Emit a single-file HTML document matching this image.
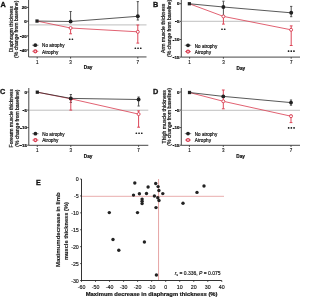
<!DOCTYPE html><html><head><meta charset="utf-8"><style>html,body{margin:0;padding:0;background:#fff;}svg{display:block;will-change:transform;font-family:"Liberation Sans",sans-serif;}</style></head><body>
<svg width="300" height="299" viewBox="0 0 300 299">
<rect width="300" height="299" fill="#fff"/>
<line x1="28.6" y1="0" x2="28.6" y2="56.95" stroke="#3c3c3c" stroke-width="0.95"/>
<line x1="28.6" y1="56.95" x2="146.5" y2="56.95" stroke="#3c3c3c" stroke-width="0.95"/>
<line x1="27.0" y1="7.4" x2="28.6" y2="7.4" stroke="#333" stroke-width="0.9"/>
<text x="26.7" y="9.0" font-size="4.4" text-anchor="end" font-weight="bold" fill="#111" stroke="#111" stroke-width="0.24">20</text>
<line x1="27.0" y1="21.2" x2="28.6" y2="21.2" stroke="#333" stroke-width="0.9"/>
<text x="26.7" y="22.8" font-size="4.4" text-anchor="end" font-weight="bold" fill="#111" stroke="#111" stroke-width="0.24">0</text>
<line x1="27.0" y1="35.9" x2="28.6" y2="35.9" stroke="#333" stroke-width="0.9"/>
<text x="26.7" y="37.5" font-size="4.4" text-anchor="end" font-weight="bold" fill="#111" stroke="#111" stroke-width="0.24">20</text>
<rect x="19.86" y="36.00" width="1.8" height="1.0" fill="#111"/>
<line x1="27.0" y1="49.9" x2="28.6" y2="49.9" stroke="#333" stroke-width="0.9"/>
<text x="26.7" y="51.5" font-size="4.4" text-anchor="end" font-weight="bold" fill="#111" stroke="#111" stroke-width="0.24">40</text>
<rect x="19.86" y="50.00" width="1.8" height="1.0" fill="#111"/>
<line x1="37.2" y1="56.95" x2="37.2" y2="58.550000000000004" stroke="#333" stroke-width="0.9"/>
<text x="37.2" y="63.85" font-size="4.5" text-anchor="middle" font-weight="normal" fill="#111" stroke="#111" stroke-width="0.13">1</text>
<line x1="70.6" y1="56.95" x2="70.6" y2="58.550000000000004" stroke="#333" stroke-width="0.9"/>
<text x="70.6" y="63.85" font-size="4.5" text-anchor="middle" font-weight="normal" fill="#111" stroke="#111" stroke-width="0.13">3</text>
<line x1="137.8" y1="56.95" x2="137.8" y2="58.550000000000004" stroke="#333" stroke-width="0.9"/>
<text x="137.8" y="63.85" font-size="4.5" text-anchor="middle" font-weight="normal" fill="#111" stroke="#111" stroke-width="0.13">7</text>
<text x="83.8" y="69.45" font-size="4.7" text-anchor="start" font-weight="bold" fill="#111" stroke="#111" stroke-width="0.2">Day</text>
<line x1="28.6" y1="24.9" x2="146.5" y2="24.9" stroke="#a4a4a4" stroke-width="0.7"/>
<text x="0.5" y="7.2" font-size="7.3" text-anchor="start" font-weight="bold" fill="#111" stroke="#111" stroke-width="0.3">A</text>
<text x="12.8" y="29.2" font-size="5.0" text-anchor="middle" font-weight="normal" fill="#111" stroke="#111" stroke-width="0.2" transform="rotate(-90 12.8 29.2)" textLength="46.2" lengthAdjust="spacingAndGlyphs">Diaphragm thickness</text>
<text x="18.4" y="29.3" font-size="5.0" text-anchor="middle" font-weight="normal" fill="#111" stroke="#111" stroke-width="0.2" transform="rotate(-90 18.4 29.3)" textLength="57.2" lengthAdjust="spacingAndGlyphs">(% change from baseline)</text>
<line x1="70.6" y1="11.5" x2="70.6" y2="21.5" stroke="#505050" stroke-width="1.0"/>
<line x1="69.5" y1="11.5" x2="71.69999999999999" y2="11.5" stroke="#505050" stroke-width="1.0"/>
<line x1="69.5" y1="21.5" x2="71.69999999999999" y2="21.5" stroke="#505050" stroke-width="1.0"/>
<line x1="137.8" y1="1.6" x2="137.8" y2="20" stroke="#505050" stroke-width="1.0"/>
<line x1="136.70000000000002" y1="1.6" x2="138.9" y2="1.6" stroke="#505050" stroke-width="1.0"/>
<line x1="136.70000000000002" y1="20" x2="138.9" y2="20" stroke="#505050" stroke-width="1.0"/>
<line x1="70.6" y1="28.0" x2="70.6" y2="33.8" stroke="#dc4658" stroke-width="1.0"/>
<line x1="69.19999999999999" y1="28.0" x2="72.0" y2="28.0" stroke="#dc4658" stroke-width="1.0"/>
<line x1="69.19999999999999" y1="33.8" x2="72.0" y2="33.8" stroke="#dc4658" stroke-width="1.0"/>
<line x1="137.8" y1="25" x2="137.8" y2="43.1" stroke="#dc4658" stroke-width="1.0"/>
<line x1="136.4" y1="25" x2="139.20000000000002" y2="25" stroke="#dc4658" stroke-width="1.0"/>
<line x1="136.4" y1="43.1" x2="139.20000000000002" y2="43.1" stroke="#dc4658" stroke-width="1.0"/>
<polyline points="37.0,21.05 70.6,28.0 137.8,31.8" fill="none" stroke="#dc4658" stroke-width="0.85"/>
<polyline points="37.0,21.05 70.6,21.5 137.8,16.3" fill="none" stroke="#222" stroke-width="0.75"/>
<circle cx="70.6" cy="28.0" r="1.5" fill="#fff" stroke="#d83a4e" stroke-width="0.9"/>
<circle cx="137.8" cy="31.8" r="1.5" fill="#fff" stroke="#d83a4e" stroke-width="0.9"/>
<circle cx="70.6" cy="21.5" r="1.95" fill="#222" stroke="none" stroke-width="0"/>
<circle cx="137.8" cy="16.3" r="1.95" fill="#222" stroke="none" stroke-width="0"/>
<rect x="35.40" y="19.40" width="3.2" height="3.3" fill="#222"/>
<rect x="68.90" y="38.40" width="1.6" height="1.7" rx="0.5" fill="#222"/>
<rect x="71.60" y="38.40" width="1.6" height="1.7" rx="0.5" fill="#222"/>
<rect x="134.55" y="47.40" width="1.6" height="1.7" rx="0.5" fill="#222"/>
<rect x="137.25" y="47.40" width="1.6" height="1.7" rx="0.5" fill="#222"/>
<rect x="139.95" y="47.40" width="1.6" height="1.7" rx="0.5" fill="#222"/>
<line x1="32.099999999999994" y1="45.2" x2="38.5" y2="45.2" stroke="#555" stroke-width="0.7"/>
<circle cx="35.3" cy="45.2" r="1.9" fill="#222" stroke="none" stroke-width="0"/>
<line x1="32.3" y1="51.3" x2="38.3" y2="51.3" stroke="#dc4658" stroke-width="0.8"/>
<circle cx="35.3" cy="51.3" r="1.5" fill="#f6d0d6" stroke="#d83a4e" stroke-width="1.2"/>
<text x="42.1" y="47.3" font-size="4.8" text-anchor="start" font-weight="normal" fill="#111" stroke="#111" stroke-width="0.18" textLength="22.4" lengthAdjust="spacingAndGlyphs">No atrophy</text>
<text x="42.1" y="53.6" font-size="4.8" text-anchor="start" font-weight="normal" fill="#111" stroke="#111" stroke-width="0.18" textLength="16.2" lengthAdjust="spacingAndGlyphs">Atrophy</text>
<line x1="181.3" y1="0" x2="181.3" y2="57.1" stroke="#3c3c3c" stroke-width="0.95"/>
<line x1="181.3" y1="57.1" x2="300" y2="57.1" stroke="#3c3c3c" stroke-width="0.95"/>
<line x1="179.70000000000002" y1="3.7" x2="181.3" y2="3.7" stroke="#333" stroke-width="0.9"/>
<text x="179.4" y="5.3" font-size="4.4" text-anchor="end" font-weight="bold" fill="#111" stroke="#111" stroke-width="0.24">0</text>
<line x1="179.70000000000002" y1="21.4" x2="181.3" y2="21.4" stroke="#333" stroke-width="0.9"/>
<text x="179.4" y="23.0" font-size="4.4" text-anchor="end" font-weight="bold" fill="#111" stroke="#111" stroke-width="0.24">5</text>
<rect x="175.00" y="21.00" width="1.8" height="1.0" fill="#111"/>
<line x1="179.70000000000002" y1="39.5" x2="181.3" y2="39.5" stroke="#333" stroke-width="0.9"/>
<text x="179.4" y="41.1" font-size="4.4" text-anchor="end" font-weight="bold" fill="#111" stroke="#111" stroke-width="0.24">10</text>
<rect x="172.56" y="40.00" width="1.8" height="1.0" fill="#111"/>
<line x1="179.70000000000002" y1="57.1" x2="181.3" y2="57.1" stroke="#333" stroke-width="0.9"/>
<text x="179.4" y="58.7" font-size="4.4" text-anchor="end" font-weight="bold" fill="#111" stroke="#111" stroke-width="0.24">15</text>
<rect x="172.56" y="57.00" width="1.8" height="1.0" fill="#111"/>
<line x1="189.6" y1="57.1" x2="189.6" y2="58.7" stroke="#333" stroke-width="0.9"/>
<text x="189.6" y="64.0" font-size="4.5" text-anchor="middle" font-weight="normal" fill="#111" stroke="#111" stroke-width="0.13">1</text>
<line x1="223.4" y1="57.1" x2="223.4" y2="58.7" stroke="#333" stroke-width="0.9"/>
<text x="223.4" y="64.0" font-size="4.5" text-anchor="middle" font-weight="normal" fill="#111" stroke="#111" stroke-width="0.13">3</text>
<line x1="291.2" y1="57.1" x2="291.2" y2="58.7" stroke="#333" stroke-width="0.9"/>
<text x="291.2" y="64.0" font-size="4.5" text-anchor="middle" font-weight="normal" fill="#111" stroke="#111" stroke-width="0.13">7</text>
<text x="236.5" y="69.6" font-size="4.7" text-anchor="start" font-weight="bold" fill="#111" stroke="#111" stroke-width="0.2">Day</text>
<line x1="181.3" y1="21.3" x2="300" y2="21.3" stroke="#a4a4a4" stroke-width="0.7"/>
<text x="153" y="7.0" font-size="7.3" text-anchor="start" font-weight="bold" fill="#111" stroke="#111" stroke-width="0.3">B</text>
<text x="165.3" y="28.3" font-size="5.0" text-anchor="middle" font-weight="normal" fill="#111" stroke="#111" stroke-width="0.2" transform="rotate(-90 165.3 28.3)" textLength="49.2" lengthAdjust="spacingAndGlyphs">Arm muscle thickness</text>
<text x="171.0" y="28.3" font-size="5.0" text-anchor="middle" font-weight="normal" fill="#111" stroke="#111" stroke-width="0.2" transform="rotate(-90 171.0 28.3)" textLength="57.2" lengthAdjust="spacingAndGlyphs">(% change from baseline)</text>
<line x1="223.4" y1="1.2" x2="223.4" y2="16" stroke="#505050" stroke-width="1.0"/>
<line x1="222.3" y1="1.2" x2="224.5" y2="1.2" stroke="#505050" stroke-width="1.0"/>
<line x1="222.3" y1="16" x2="224.5" y2="16" stroke="#505050" stroke-width="1.0"/>
<line x1="291.2" y1="6.4" x2="291.2" y2="16.7" stroke="#505050" stroke-width="1.0"/>
<line x1="290.09999999999997" y1="6.4" x2="292.3" y2="6.4" stroke="#505050" stroke-width="1.0"/>
<line x1="290.09999999999997" y1="16.7" x2="292.3" y2="16.7" stroke="#505050" stroke-width="1.0"/>
<line x1="223.4" y1="16.4" x2="223.4" y2="24.1" stroke="#dc4658" stroke-width="1.0"/>
<line x1="222.0" y1="16.4" x2="224.8" y2="16.4" stroke="#dc4658" stroke-width="1.0"/>
<line x1="222.0" y1="24.1" x2="224.8" y2="24.1" stroke="#dc4658" stroke-width="1.0"/>
<line x1="291.2" y1="25.9" x2="291.2" y2="45.5" stroke="#dc4658" stroke-width="1.0"/>
<line x1="289.8" y1="25.9" x2="292.59999999999997" y2="25.9" stroke="#dc4658" stroke-width="1.0"/>
<line x1="289.8" y1="45.5" x2="292.59999999999997" y2="45.5" stroke="#dc4658" stroke-width="1.0"/>
<polyline points="189.35,3.75 223.4,16.4 291.1,29.8" fill="none" stroke="#dc4658" stroke-width="0.85"/>
<polyline points="189.35,3.75 223.4,7 291.2,12.8" fill="none" stroke="#222" stroke-width="0.75"/>
<circle cx="223.4" cy="16.4" r="1.5" fill="#fff" stroke="#d83a4e" stroke-width="0.9"/>
<circle cx="291.1" cy="29.8" r="1.5" fill="#fff" stroke="#d83a4e" stroke-width="0.9"/>
<circle cx="223.4" cy="7" r="1.95" fill="#222" stroke="none" stroke-width="0"/>
<circle cx="291.2" cy="12.8" r="1.95" fill="#222" stroke="none" stroke-width="0"/>
<rect x="187.75" y="2.10" width="3.2" height="3.3" fill="#222"/>
<rect x="221.20" y="28.40" width="1.6" height="1.7" rx="0.5" fill="#222"/>
<rect x="223.90" y="28.40" width="1.6" height="1.7" rx="0.5" fill="#222"/>
<rect x="287.75" y="50.20" width="1.6" height="1.7" rx="0.5" fill="#222"/>
<rect x="290.45" y="50.20" width="1.6" height="1.7" rx="0.5" fill="#222"/>
<rect x="293.15" y="50.20" width="1.6" height="1.7" rx="0.5" fill="#222"/>
<line x1="184.8" y1="45.3" x2="191.2" y2="45.3" stroke="#555" stroke-width="0.7"/>
<circle cx="188" cy="45.3" r="1.9" fill="#222" stroke="none" stroke-width="0"/>
<line x1="185.0" y1="51.6" x2="191.0" y2="51.6" stroke="#dc4658" stroke-width="0.8"/>
<circle cx="188" cy="51.6" r="1.5" fill="#f6d0d6" stroke="#d83a4e" stroke-width="1.2"/>
<text x="194.8" y="47.8" font-size="4.8" text-anchor="start" font-weight="normal" fill="#111" stroke="#111" stroke-width="0.18" textLength="22.4" lengthAdjust="spacingAndGlyphs">No atrophy</text>
<text x="194.8" y="53.8" font-size="4.8" text-anchor="start" font-weight="normal" fill="#111" stroke="#111" stroke-width="0.18" textLength="16.2" lengthAdjust="spacingAndGlyphs">Atrophy</text>
<line x1="28.8" y1="88" x2="28.8" y2="145.3" stroke="#3c3c3c" stroke-width="0.95"/>
<line x1="28.8" y1="145.3" x2="148.3" y2="145.3" stroke="#3c3c3c" stroke-width="0.95"/>
<line x1="27.2" y1="92" x2="28.8" y2="92" stroke="#333" stroke-width="0.9"/>
<text x="26.9" y="93.6" font-size="4.4" text-anchor="end" font-weight="bold" fill="#111" stroke="#111" stroke-width="0.24">0</text>
<line x1="27.2" y1="110.1" x2="28.8" y2="110.1" stroke="#333" stroke-width="0.9"/>
<text x="26.9" y="111.7" font-size="4.4" text-anchor="end" font-weight="bold" fill="#111" stroke="#111" stroke-width="0.24">5</text>
<rect x="22.50" y="110.00" width="1.8" height="1.0" fill="#111"/>
<line x1="27.2" y1="127.6" x2="28.8" y2="127.6" stroke="#333" stroke-width="0.9"/>
<text x="26.9" y="129.2" font-size="4.4" text-anchor="end" font-weight="bold" fill="#111" stroke="#111" stroke-width="0.24">10</text>
<rect x="20.06" y="128.00" width="1.8" height="1.0" fill="#111"/>
<line x1="27.2" y1="145.2" x2="28.8" y2="145.2" stroke="#333" stroke-width="0.9"/>
<text x="26.9" y="146.8" font-size="4.4" text-anchor="end" font-weight="bold" fill="#111" stroke="#111" stroke-width="0.24">15</text>
<rect x="20.06" y="145.00" width="1.8" height="1.0" fill="#111"/>
<line x1="37.3" y1="145.3" x2="37.3" y2="146.9" stroke="#333" stroke-width="0.9"/>
<text x="37.3" y="152.2" font-size="4.5" text-anchor="middle" font-weight="normal" fill="#111" stroke="#111" stroke-width="0.13">1</text>
<line x1="70.8" y1="145.3" x2="70.8" y2="146.9" stroke="#333" stroke-width="0.9"/>
<text x="70.8" y="152.2" font-size="4.5" text-anchor="middle" font-weight="normal" fill="#111" stroke="#111" stroke-width="0.13">3</text>
<line x1="138.6" y1="145.3" x2="138.6" y2="146.9" stroke="#333" stroke-width="0.9"/>
<text x="138.6" y="152.2" font-size="4.5" text-anchor="middle" font-weight="normal" fill="#111" stroke="#111" stroke-width="0.13">7</text>
<text x="83.8" y="158.3" font-size="4.7" text-anchor="start" font-weight="bold" fill="#111" stroke="#111" stroke-width="0.2">Day</text>
<line x1="28.8" y1="110.2" x2="148.3" y2="110.2" stroke="#a4a4a4" stroke-width="0.7"/>
<text x="0" y="94.2" font-size="7.3" text-anchor="start" font-weight="bold" fill="#111" stroke="#111" stroke-width="0.3">C</text>
<text x="13.0" y="118.25" font-size="5.0" text-anchor="middle" font-weight="normal" fill="#111" stroke="#111" stroke-width="0.2" transform="rotate(-90 13.0 118.25)" textLength="58.300000000000004" lengthAdjust="spacingAndGlyphs">Forearm muscle thickness</text>
<text x="18.7" y="118.2" font-size="5.0" text-anchor="middle" font-weight="normal" fill="#111" stroke="#111" stroke-width="0.2" transform="rotate(-90 18.7 118.2)" textLength="57.2" lengthAdjust="spacingAndGlyphs">(% change from baseline)</text>
<line x1="70.8" y1="94.5" x2="70.8" y2="102.5" stroke="#505050" stroke-width="1.0"/>
<line x1="69.7" y1="94.5" x2="71.89999999999999" y2="94.5" stroke="#505050" stroke-width="1.0"/>
<line x1="69.7" y1="102.5" x2="71.89999999999999" y2="102.5" stroke="#505050" stroke-width="1.0"/>
<line x1="138.6" y1="97" x2="138.6" y2="106" stroke="#505050" stroke-width="1.0"/>
<line x1="137.5" y1="97" x2="139.7" y2="97" stroke="#505050" stroke-width="1.0"/>
<line x1="137.5" y1="106" x2="139.7" y2="106" stroke="#505050" stroke-width="1.0"/>
<line x1="70.8" y1="98.8" x2="70.8" y2="110.1" stroke="#dc4658" stroke-width="1.0"/>
<line x1="69.39999999999999" y1="98.8" x2="72.2" y2="98.8" stroke="#dc4658" stroke-width="1.0"/>
<line x1="69.39999999999999" y1="110.1" x2="72.2" y2="110.1" stroke="#dc4658" stroke-width="1.0"/>
<line x1="138.6" y1="110.9" x2="138.6" y2="127.2" stroke="#dc4658" stroke-width="1.0"/>
<line x1="137.2" y1="110.9" x2="140.0" y2="110.9" stroke="#dc4658" stroke-width="1.0"/>
<line x1="137.2" y1="127.2" x2="140.0" y2="127.2" stroke="#dc4658" stroke-width="1.0"/>
<polyline points="37.3,92.2 70.8,98.8 138.6,114.1" fill="none" stroke="#dc4658" stroke-width="0.85"/>
<polyline points="37.3,92.2 70.8,98.4 138.6,99.5" fill="none" stroke="#222" stroke-width="0.75"/>
<circle cx="70.8" cy="98.8" r="1.5" fill="#fff" stroke="#d83a4e" stroke-width="0.9"/>
<circle cx="138.6" cy="114.1" r="1.5" fill="#fff" stroke="#d83a4e" stroke-width="0.9"/>
<circle cx="70.8" cy="98.4" r="1.95" fill="#222" stroke="none" stroke-width="0"/>
<circle cx="138.6" cy="99.5" r="1.95" fill="#222" stroke="none" stroke-width="0"/>
<rect x="35.70" y="90.55" width="3.2" height="3.3" fill="#222"/>
<rect x="135.55" y="132.40" width="1.6" height="1.7" rx="0.5" fill="#222"/>
<rect x="138.25" y="132.40" width="1.6" height="1.7" rx="0.5" fill="#222"/>
<rect x="140.95" y="132.40" width="1.6" height="1.7" rx="0.5" fill="#222"/>
<line x1="32.199999999999996" y1="133.7" x2="38.6" y2="133.7" stroke="#555" stroke-width="0.7"/>
<circle cx="35.4" cy="133.7" r="1.9" fill="#222" stroke="none" stroke-width="0"/>
<line x1="32.4" y1="140.1" x2="38.4" y2="140.1" stroke="#dc4658" stroke-width="0.8"/>
<circle cx="35.4" cy="140.1" r="1.5" fill="#f6d0d6" stroke="#d83a4e" stroke-width="1.2"/>
<text x="42.2" y="136.1" font-size="4.8" text-anchor="start" font-weight="normal" fill="#111" stroke="#111" stroke-width="0.18" textLength="22.4" lengthAdjust="spacingAndGlyphs">No atrophy</text>
<text x="42.2" y="142.4" font-size="4.8" text-anchor="start" font-weight="normal" fill="#111" stroke="#111" stroke-width="0.18" textLength="16.2" lengthAdjust="spacingAndGlyphs">Atrophy</text>
<line x1="181.3" y1="88" x2="181.3" y2="145.3" stroke="#3c3c3c" stroke-width="0.95"/>
<line x1="181.3" y1="145.3" x2="300" y2="145.3" stroke="#3c3c3c" stroke-width="0.95"/>
<line x1="179.70000000000002" y1="92" x2="181.3" y2="92" stroke="#333" stroke-width="0.9"/>
<text x="179.4" y="93.6" font-size="4.4" text-anchor="end" font-weight="bold" fill="#111" stroke="#111" stroke-width="0.24">0</text>
<line x1="179.70000000000002" y1="110.1" x2="181.3" y2="110.1" stroke="#333" stroke-width="0.9"/>
<text x="179.4" y="111.7" font-size="4.4" text-anchor="end" font-weight="bold" fill="#111" stroke="#111" stroke-width="0.24">5</text>
<rect x="175.00" y="110.00" width="1.8" height="1.0" fill="#111"/>
<line x1="179.70000000000002" y1="127.6" x2="181.3" y2="127.6" stroke="#333" stroke-width="0.9"/>
<text x="179.4" y="129.2" font-size="4.4" text-anchor="end" font-weight="bold" fill="#111" stroke="#111" stroke-width="0.24">10</text>
<rect x="172.56" y="128.00" width="1.8" height="1.0" fill="#111"/>
<line x1="179.70000000000002" y1="145.2" x2="181.3" y2="145.2" stroke="#333" stroke-width="0.9"/>
<text x="179.4" y="146.8" font-size="4.4" text-anchor="end" font-weight="bold" fill="#111" stroke="#111" stroke-width="0.24">15</text>
<rect x="172.56" y="145.00" width="1.8" height="1.0" fill="#111"/>
<line x1="189.4" y1="145.3" x2="189.4" y2="146.9" stroke="#333" stroke-width="0.9"/>
<text x="189.4" y="152.2" font-size="4.5" text-anchor="middle" font-weight="normal" fill="#111" stroke="#111" stroke-width="0.13">1</text>
<line x1="223.3" y1="145.3" x2="223.3" y2="146.9" stroke="#333" stroke-width="0.9"/>
<text x="223.3" y="152.2" font-size="4.5" text-anchor="middle" font-weight="normal" fill="#111" stroke="#111" stroke-width="0.13">3</text>
<line x1="291" y1="145.3" x2="291" y2="146.9" stroke="#333" stroke-width="0.9"/>
<text x="291" y="152.2" font-size="4.5" text-anchor="middle" font-weight="normal" fill="#111" stroke="#111" stroke-width="0.13">7</text>
<text x="236.3" y="158.3" font-size="4.7" text-anchor="start" font-weight="bold" fill="#111" stroke="#111" stroke-width="0.2">Day</text>
<line x1="181.3" y1="110.3" x2="300" y2="110.3" stroke="#a4a4a4" stroke-width="0.7"/>
<text x="153" y="94.2" font-size="7.3" text-anchor="start" font-weight="bold" fill="#111" stroke="#111" stroke-width="0.3">D</text>
<text x="165.6" y="116.75" font-size="5.0" text-anchor="middle" font-weight="normal" fill="#111" stroke="#111" stroke-width="0.2" transform="rotate(-90 165.6 116.75)" textLength="53.300000000000004" lengthAdjust="spacingAndGlyphs">Thigh muscle thickness</text>
<text x="171.0" y="116.9" font-size="5.0" text-anchor="middle" font-weight="normal" fill="#111" stroke="#111" stroke-width="0.2" transform="rotate(-90 171.0 116.9)" textLength="57.800000000000004" lengthAdjust="spacingAndGlyphs">(% change from baseline)</text>
<line x1="291" y1="100" x2="291" y2="105.2" stroke="#505050" stroke-width="1.0"/>
<line x1="289.9" y1="100" x2="292.1" y2="100" stroke="#505050" stroke-width="1.0"/>
<line x1="289.9" y1="105.2" x2="292.1" y2="105.2" stroke="#505050" stroke-width="1.0"/>
<line x1="223.3" y1="90" x2="223.3" y2="108.8" stroke="#dc4658" stroke-width="1.0"/>
<line x1="221.9" y1="90" x2="224.70000000000002" y2="90" stroke="#dc4658" stroke-width="1.0"/>
<line x1="221.9" y1="108.8" x2="224.70000000000002" y2="108.8" stroke="#dc4658" stroke-width="1.0"/>
<line x1="291" y1="115.2" x2="291" y2="122.6" stroke="#dc4658" stroke-width="1.0"/>
<line x1="289.6" y1="115.2" x2="292.4" y2="115.2" stroke="#dc4658" stroke-width="1.0"/>
<line x1="289.6" y1="122.6" x2="292.4" y2="122.6" stroke="#dc4658" stroke-width="1.0"/>
<polyline points="189.5,92.5 223.3,101.3 291,116.2" fill="none" stroke="#dc4658" stroke-width="0.85"/>
<polyline points="189.5,92.5 223.3,96.4 291,102.6" fill="none" stroke="#222" stroke-width="0.75"/>
<circle cx="223.3" cy="101.3" r="1.5" fill="#fff" stroke="#d83a4e" stroke-width="0.9"/>
<circle cx="291" cy="116.2" r="1.5" fill="#fff" stroke="#d83a4e" stroke-width="0.9"/>
<circle cx="223.3" cy="96.4" r="1.95" fill="#222" stroke="none" stroke-width="0"/>
<circle cx="291" cy="102.6" r="1.95" fill="#222" stroke="none" stroke-width="0"/>
<rect x="187.90" y="90.85" width="3.2" height="3.3" fill="#222"/>
<rect x="287.85" y="127.10" width="1.6" height="1.7" rx="0.5" fill="#222"/>
<rect x="290.55" y="127.10" width="1.6" height="1.7" rx="0.5" fill="#222"/>
<rect x="293.25" y="127.10" width="1.6" height="1.7" rx="0.5" fill="#222"/>
<line x1="184.8" y1="133.6" x2="191.2" y2="133.6" stroke="#555" stroke-width="0.7"/>
<circle cx="188" cy="133.6" r="1.9" fill="#222" stroke="none" stroke-width="0"/>
<line x1="185.0" y1="140" x2="191.0" y2="140" stroke="#dc4658" stroke-width="0.8"/>
<circle cx="188" cy="140" r="1.5" fill="#f6d0d6" stroke="#d83a4e" stroke-width="1.2"/>
<text x="194.8" y="135.8" font-size="4.8" text-anchor="start" font-weight="normal" fill="#111" stroke="#111" stroke-width="0.18" textLength="22.4" lengthAdjust="spacingAndGlyphs">No atrophy</text>
<text x="194.8" y="142.1" font-size="4.8" text-anchor="start" font-weight="normal" fill="#111" stroke="#111" stroke-width="0.18" textLength="16.2" lengthAdjust="spacingAndGlyphs">Atrophy</text>
<line x1="81.5" y1="179" x2="81.5" y2="281.0" stroke="#333" stroke-width="1.0"/>
<line x1="81.0" y1="280.5" x2="221.8" y2="280.5" stroke="#333" stroke-width="1.0"/>
<line x1="80.0" y1="179.0" x2="81.5" y2="179.0" stroke="#222" stroke-width="0.7"/>
<text x="78.8" y="181.2" font-size="5.3" text-anchor="end" font-weight="normal" fill="#111" stroke="#111" stroke-width="0.14">0</text>
<line x1="80.0" y1="195.91666666666666" x2="81.5" y2="195.91666666666666" stroke="#222" stroke-width="0.7"/>
<text x="78.8" y="198.12" font-size="5.3" text-anchor="end" font-weight="normal" fill="#111" stroke="#111" stroke-width="0.14">-5</text>
<line x1="80.0" y1="212.83333333333334" x2="81.5" y2="212.83333333333334" stroke="#222" stroke-width="0.7"/>
<text x="78.8" y="215.03" font-size="5.3" text-anchor="end" font-weight="normal" fill="#111" stroke="#111" stroke-width="0.14">-10</text>
<line x1="80.0" y1="229.75" x2="81.5" y2="229.75" stroke="#222" stroke-width="0.7"/>
<text x="78.8" y="231.95" font-size="5.3" text-anchor="end" font-weight="normal" fill="#111" stroke="#111" stroke-width="0.14">-15</text>
<line x1="80.0" y1="246.66666666666669" x2="81.5" y2="246.66666666666669" stroke="#222" stroke-width="0.7"/>
<text x="78.8" y="248.87" font-size="5.3" text-anchor="end" font-weight="normal" fill="#111" stroke="#111" stroke-width="0.14">-20</text>
<line x1="80.0" y1="263.5833333333333" x2="81.5" y2="263.5833333333333" stroke="#222" stroke-width="0.7"/>
<text x="78.8" y="265.78" font-size="5.3" text-anchor="end" font-weight="normal" fill="#111" stroke="#111" stroke-width="0.14">-25</text>
<line x1="80.0" y1="280.5" x2="81.5" y2="280.5" stroke="#222" stroke-width="0.7"/>
<text x="78.8" y="282.7" font-size="5.3" text-anchor="end" font-weight="normal" fill="#111" stroke="#111" stroke-width="0.14">-30</text>
<line x1="81.5" y1="280.5" x2="81.5" y2="282.0" stroke="#222" stroke-width="0.7"/>
<text x="81.5" y="288.9" font-size="5.3" text-anchor="middle" font-weight="normal" fill="#111" stroke="#111" stroke-width="0.14">-60</text>
<line x1="95.53" y1="280.5" x2="95.53" y2="282.0" stroke="#222" stroke-width="0.7"/>
<text x="95.53" y="288.9" font-size="5.3" text-anchor="middle" font-weight="normal" fill="#111" stroke="#111" stroke-width="0.14">-50</text>
<line x1="109.56" y1="280.5" x2="109.56" y2="282.0" stroke="#222" stroke-width="0.7"/>
<text x="109.56" y="288.9" font-size="5.3" text-anchor="middle" font-weight="normal" fill="#111" stroke="#111" stroke-width="0.14">-40</text>
<line x1="123.59" y1="280.5" x2="123.59" y2="282.0" stroke="#222" stroke-width="0.7"/>
<text x="123.59" y="288.9" font-size="5.3" text-anchor="middle" font-weight="normal" fill="#111" stroke="#111" stroke-width="0.14">-30</text>
<line x1="137.62" y1="280.5" x2="137.62" y2="282.0" stroke="#222" stroke-width="0.7"/>
<text x="137.62" y="288.9" font-size="5.3" text-anchor="middle" font-weight="normal" fill="#111" stroke="#111" stroke-width="0.14">-20</text>
<line x1="151.65" y1="280.5" x2="151.65" y2="282.0" stroke="#222" stroke-width="0.7"/>
<text x="151.65" y="288.9" font-size="5.3" text-anchor="middle" font-weight="normal" fill="#111" stroke="#111" stroke-width="0.14">-10</text>
<line x1="165.68" y1="280.5" x2="165.68" y2="282.0" stroke="#222" stroke-width="0.7"/>
<text x="165.68" y="288.9" font-size="5.3" text-anchor="middle" font-weight="normal" fill="#111" stroke="#111" stroke-width="0.14">0</text>
<line x1="179.71" y1="280.5" x2="179.71" y2="282.0" stroke="#222" stroke-width="0.7"/>
<text x="179.71" y="288.9" font-size="5.3" text-anchor="middle" font-weight="normal" fill="#111" stroke="#111" stroke-width="0.14">10</text>
<line x1="193.74" y1="280.5" x2="193.74" y2="282.0" stroke="#222" stroke-width="0.7"/>
<text x="193.74" y="288.9" font-size="5.3" text-anchor="middle" font-weight="normal" fill="#111" stroke="#111" stroke-width="0.14">20</text>
<line x1="207.77" y1="280.5" x2="207.77" y2="282.0" stroke="#222" stroke-width="0.7"/>
<text x="207.77" y="288.9" font-size="5.3" text-anchor="middle" font-weight="normal" fill="#111" stroke="#111" stroke-width="0.14">30</text>
<line x1="221.8" y1="280.5" x2="221.8" y2="282.0" stroke="#222" stroke-width="0.7"/>
<text x="221.8" y="288.9" font-size="5.3" text-anchor="middle" font-weight="normal" fill="#111" stroke="#111" stroke-width="0.14">40</text>
<text x="151.6" y="295.9" font-size="6.0" text-anchor="middle" font-weight="bold" fill="#111" stroke="#111" stroke-width="0.2" textLength="131.8" lengthAdjust="spacingAndGlyphs">Maximum decrease in diaphragm thickness (%)</text>
<text x="60.4" y="229.65" font-size="6.0" text-anchor="middle" font-weight="bold" fill="#111" stroke="#111" stroke-width="0.1" transform="rotate(-90 60.4 229.65)" textLength="74.9" lengthAdjust="spacingAndGlyphs">Maximumdecrease in limb</text>
<text x="67.9" y="231.1" font-size="6.0" text-anchor="middle" font-weight="bold" fill="#111" stroke="#111" stroke-width="0.1" transform="rotate(-90 67.9 231.1)" textLength="57.8" lengthAdjust="spacingAndGlyphs">muscle thickness (%)</text>
<text x="36" y="185.0" font-size="7.1" text-anchor="start" font-weight="bold" fill="#111" stroke="#111" stroke-width="0.3">E</text>
<line x1="82.0" y1="196.3" x2="224" y2="196.3" stroke="#d87474" stroke-width="0.6"/>
<line x1="158.55" y1="179" x2="158.55" y2="280.0" stroke="#d87474" stroke-width="0.65"/>
<circle cx="134.8" cy="183.0" r="1.7" fill="#222" stroke="none" stroke-width="0"/>
<circle cx="148.1" cy="187.0" r="1.7" fill="#222" stroke="none" stroke-width="0"/>
<circle cx="155.7" cy="183.5" r="1.7" fill="#222" stroke="none" stroke-width="0"/>
<circle cx="158.1" cy="186.6" r="1.7" fill="#222" stroke="none" stroke-width="0"/>
<circle cx="158.9" cy="190.5" r="1.7" fill="#222" stroke="none" stroke-width="0"/>
<circle cx="133.5" cy="195.1" r="1.7" fill="#222" stroke="none" stroke-width="0"/>
<circle cx="139.4" cy="193.7" r="1.7" fill="#222" stroke="none" stroke-width="0"/>
<circle cx="146.5" cy="193.5" r="1.7" fill="#222" stroke="none" stroke-width="0"/>
<circle cx="154.4" cy="196.0" r="1.7" fill="#222" stroke="none" stroke-width="0"/>
<circle cx="142.1" cy="199.1" r="1.7" fill="#222" stroke="none" stroke-width="0"/>
<circle cx="142.1" cy="201.2" r="1.7" fill="#222" stroke="none" stroke-width="0"/>
<circle cx="142.1" cy="203.6" r="1.7" fill="#222" stroke="none" stroke-width="0"/>
<circle cx="157.8" cy="197.7" r="1.7" fill="#222" stroke="none" stroke-width="0"/>
<circle cx="159.0" cy="200.5" r="1.7" fill="#222" stroke="none" stroke-width="0"/>
<circle cx="156.0" cy="207.6" r="1.7" fill="#222" stroke="none" stroke-width="0"/>
<circle cx="109.3" cy="212.6" r="1.7" fill="#222" stroke="none" stroke-width="0"/>
<circle cx="137.5" cy="212.6" r="1.7" fill="#222" stroke="none" stroke-width="0"/>
<circle cx="113.0" cy="239.5" r="1.7" fill="#222" stroke="none" stroke-width="0"/>
<circle cx="144.4" cy="242.0" r="1.7" fill="#222" stroke="none" stroke-width="0"/>
<circle cx="118.8" cy="250.2" r="1.7" fill="#222" stroke="none" stroke-width="0"/>
<circle cx="156.4" cy="275.0" r="1.7" fill="#222" stroke="none" stroke-width="0"/>
<circle cx="183" cy="203.2" r="1.7" fill="#222" stroke="none" stroke-width="0"/>
<circle cx="197" cy="192.4" r="1.7" fill="#222" stroke="none" stroke-width="0"/>
<circle cx="204" cy="186" r="1.7" fill="#222" stroke="none" stroke-width="0"/>
<circle cx="162.8" cy="193.6" r="1.7" fill="#222" stroke="none" stroke-width="0"/>
<text x="220.6" y="275.0" font-size="5.0" text-anchor="end" font-weight="normal" fill="#111" stroke="#111" stroke-width="0.16"><tspan font-style="italic">r</tspan><tspan font-size="3" dy="1">s</tspan><tspan dy="-1"> = 0.336, </tspan><tspan font-style="italic">P</tspan> = 0.075</text>
</svg></body></html>
